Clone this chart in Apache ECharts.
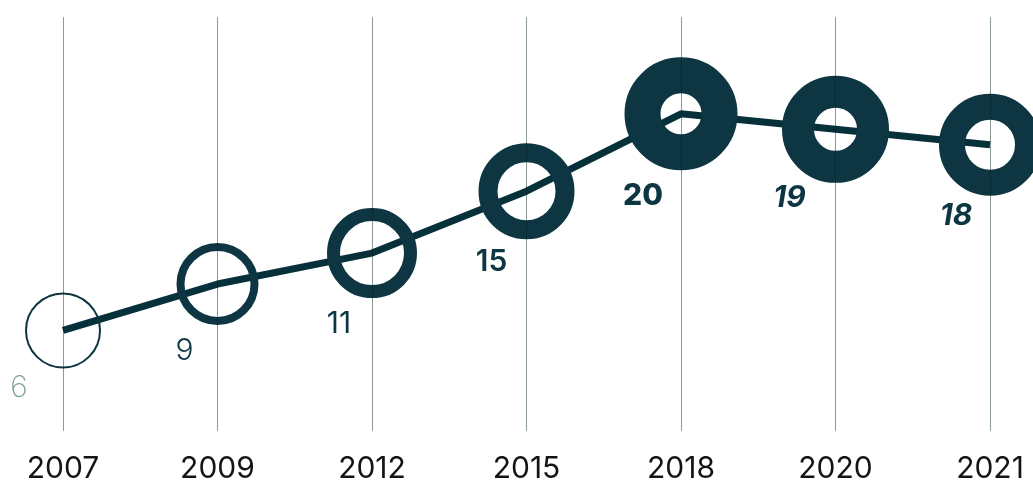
<!DOCTYPE html>
<html><head><meta charset="utf-8">
<script src="https://cdn.jsdelivr.net/npm/echarts@6/dist/echarts.min.js"></script>
<style>html,body{margin:0;padding:0;background:#fff}#chart{width:1033px;height:484px}</style>
</head><body><div id="chart"></div>
<script>
// ---- data ----
const years = ['2007', '2009', '2012', '2015', '2018', '2020', '2021'];
const values = [6, 9, 11, 15, 20, 19, 18];

// ---- styles (per point) ----
const ringWidths = [2, 8, 13, 19, 36, 32, 26];
const ringSizes = [74, 74, 77, 77, 77, 75, 76];
const labelWeights = [200, 300, 400, 600, 800, 700, 700];
const labelStyles = ['normal', 'normal', 'normal', 'normal', 'normal', 'italic', 'italic'];
const labelColors = ['#7f9ea0', '#0d3642', '#0d3642', '#0d3642', '#0d3642', '#0d3642', '#0d3642'];
const labelOffsets = [[-44, 58], [-33, 67], [-33, 71], [-35, 71], [-38, 82], [-46, 69], [-34, 71]];

const RING = '#0d3642';
const LINE = '#06303a';
const FONT = 'Inter, "Noto Sans", sans-serif';

const seriesData = values.map((v, i) => ({
  value: v,
  symbolSize: ringSizes[i],
  itemStyle: { color: 'rgba(0,0,0,0)', borderColor: RING, borderWidth: ringWidths[i] },
  label: {
    show: true,
    position: 'inside',
    offset: labelOffsets[i],
    formatter: String(v),
    fontFamily: FONT,
    fontSize: 30,
    fontWeight: labelWeights[i],
    fontStyle: labelStyles[i],
    color: labelColors[i]
  }
}));

const chart = echarts.init(document.getElementById('chart'), null, { renderer: 'canvas' });
chart.setOption({
  animation: false,
  backgroundColor: '#ffffff',
  grid: { left: 63, right: 43, top: 17, bottom: 53, containLabel: false },
  xAxis: {
    type: 'category',
    data: years,
    boundaryGap: false,
    z: 10,
    axisLine: { show: false },
    axisTick: { show: false },
    axisLabel: { margin: 23, fontFamily: FONT, fontSize: 30, color: '#141414', fontWeight: 400 },
    splitLine: { show: true, lineStyle: { color: 'rgba(0,30,25,0.45)', width: 1 } }
  },
  yAxis: {
    type: 'value',
    min: -0.5,
    max: 26.26,
    show: false,
    splitLine: { show: false }
  },
  series: [{
    type: 'line',
    data: seriesData,
    symbol: 'circle',
    showSymbol: true,
    showAllSymbol: true,
    lineStyle: { color: LINE, width: 7 },
    emphasis: { disabled: true },
    z: 2
  }]
});
</script>
</body></html>
